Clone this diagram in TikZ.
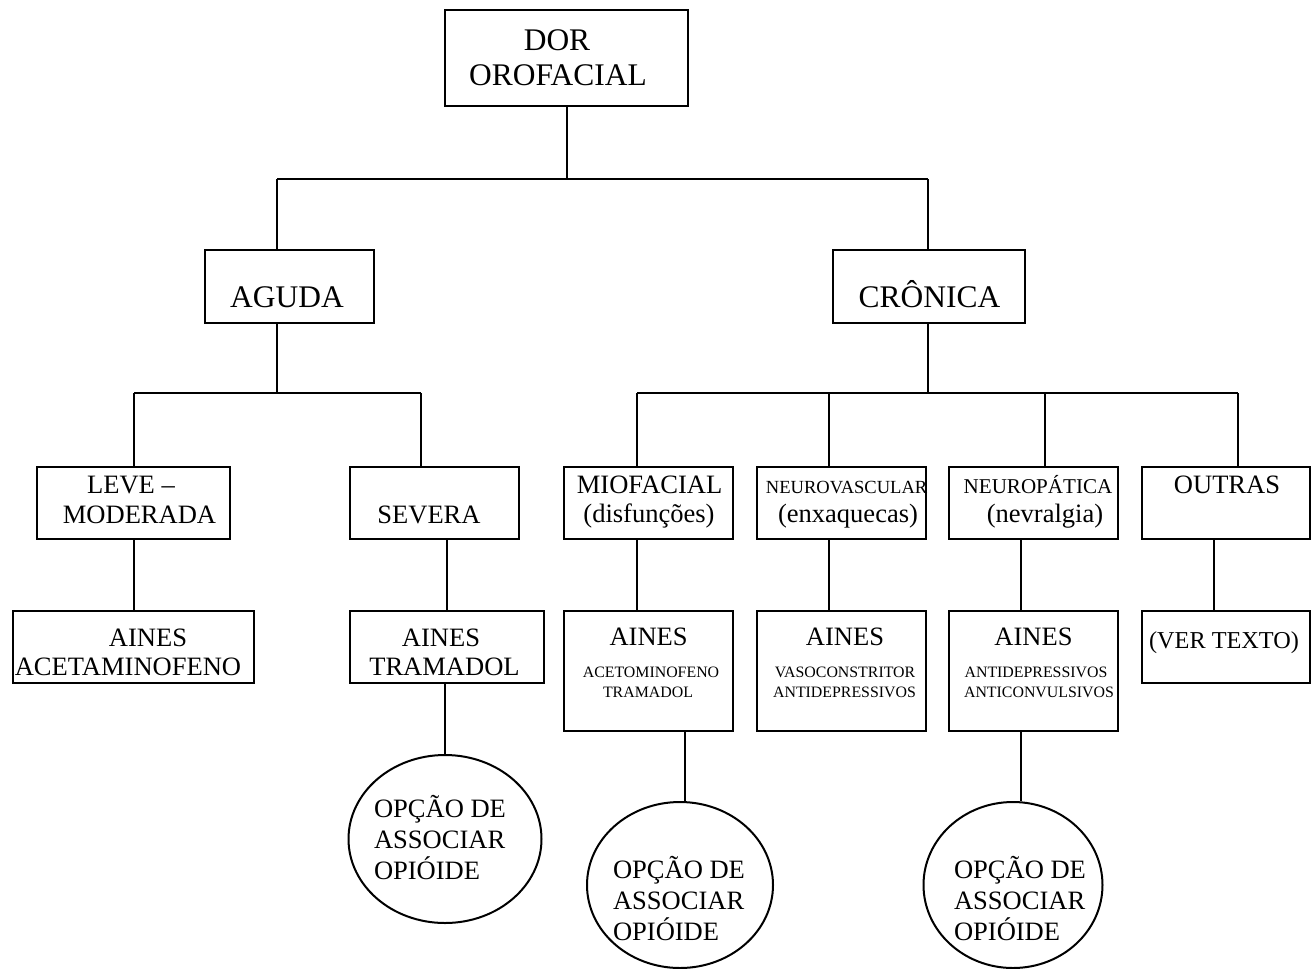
\documentclass[tikz,border=0pt]{standalone}
\usepackage{fontspec}
\setmainfont{Liberation Serif}
\usetikzlibrary{fit,shapes.geometric}
\begin{document}
\begin{tikzpicture}[x=0.75pt,y=-0.75pt,
  line width=1.5pt,
  box/.style={draw,rectangle,inner sep=0pt},
  oval/.style={draw,ellipse,inner sep=0pt},
  tb/.style={anchor=base,inner sep=0pt,font=\fontsize{23.6}{28}\selectfont},
  tm/.style={anchor=base,inner sep=0pt,font=\fontsize{19.9}{24}\selectfont},
  tvt/.style={anchor=base,inner sep=0pt,font=\fontsize{18.2}{22}\selectfont},
  tnv/.style={anchor=base,inner sep=0pt,font=\fontsize{13.9}{17}\selectfont},
  tnp/.style={anchor=base,inner sep=0pt,font=\fontsize{15.8}{19}\selectfont},
  ts/.style={anchor=base,inner sep=0pt,font=\fontsize{11.9}{14}\selectfont},
  te/.style={anchor=base west,inner sep=0pt,font=\fontsize{19.9}{24}\selectfont}]
\useasboundingbox[fill=white] (0,0) rectangle (1314,968);

% boxes
\node[box,fit={(445,10)(688,106)}] (dor) {};
\node[box,fit={(205,250)(374,323)}] (aguda) {};
\node[box,fit={(833,250)(1025,323)}] (cronica) {};
\node[box,fit={(37,467)(230,539)}] (leve) {};
\node[box,fit={(350,467)(519,539)}] (severa) {};
\node[box,fit={(564,467)(733,539)}] (mio) {};
\node[box,fit={(757,467)(926,539)}] (nvasc) {};
\node[box,fit={(949,467)(1118,539)}] (npat) {};
\node[box,fit={(1142,467)(1310,539)}] (outras) {};
\node[box,fit={(13,611)(254,683)}] (t1) {};
\node[box,fit={(350,611)(544,683)}] (t2) {};
\node[box,fit={(564,611)(733,731)}] (t3) {};
\node[box,fit={(757,611)(926,731)}] (t4) {};
\node[box,fit={(949,611)(1118,731)}] (t5) {};
\node[box,fit={(1142,611)(1310,683)}] (t6) {};

% ellipses
\node[oval,minimum width=144.75pt,minimum height=126pt] (e1) at (445,839) {};
\node[oval,minimum width=139.5pt,minimum height=124.5pt] (e2) at (680,885) {};
\node[oval,minimum width=134.25pt,minimum height=124.5pt] (e3) at (1013,885) {};

% texts
\node[tb] (l1a) at (557,50) {DOR};
\node[tb] (l1b) at (558,85) {OROFACIAL};
\node[tb] (l2a) at (287,307) {AGUDA};
\node[tb] (l2b) at (929.5,307) {CRÔNICA};
\node[tm] (l3a) at (131,493) {LEVE –};
\node[tm] (l3b) at (139.5,523) {MODERADA};
\node[tm] (l3c) at (429,523) {SEVERA};
\node[tm] (l3d) at (649.6,493) {MIOFACIAL};
\node[tm] (l3e) at (649,522) {(disfunções)};
\node[tnv] (l3f) at (846.6,493) {NEUROVASCULAR};
\node[tm] (l3g) at (848,522) {(enxaquecas)};
\node[tnp] (l3h) at (1038,493) {NEUROPÁTICA};
\node[tm] (l3i) at (1045,522) {(nevralgia)};
\node[tm] (l3j) at (1227,493) {OUTRAS};
\node[tm] (l4a) at (148,646) {AINES};
\node[tm] (l4b) at (128,675) {ACETAMINOFENO};
\node[tm] (l4c) at (441,646) {AINES};
\node[tm] (l4d) at (444.5,675) {TRAMADOL};
\node[tm] (l4e) at (648.6,645) {AINES};
\node[ts] (l4f) at (651,677) {ACETOMINOFENO};
\node[ts] (l4g) at (648,697) {TRAMADOL};
\node[tm] (l4h) at (845,645) {AINES};
\node[ts] (l4i) at (845,677) {VASOCONSTRITOR};
\node[ts] (l4j) at (844.5,697) {ANTIDEPRESSIVOS};
\node[tm] (l4k) at (1033.5,645) {AINES};
\node[ts] (l4l) at (1036,677) {ANTIDEPRESSIVOS};
\node[ts] (l4m) at (1039,697) {ANTICONVULSIVOS};
\node[tvt] (l4n) at (1224,648) {(VER TEXTO)};

\node[te] (o1a) at (373,817) {OPÇÃO DE};
\node[te] (o1b) at (373,848) {ASSOCIAR};
\node[te] (o1c) at (373,879) {OPIÓIDE};
\node[te] (o2a) at (612,878) {OPÇÃO DE};
\node[te] (o2b) at (612,909) {ASSOCIAR};
\node[te] (o2c) at (612,940) {OPIÓIDE};
\node[te] (o3a) at (953,878) {OPÇÃO DE};
\node[te] (o3b) at (953,909) {ASSOCIAR};
\node[te] (o3c) at (953,940) {OPIÓIDE};

% connectors
\coordinate (j0) at (567,179);
\coordinate (j0l) at (277,179);
\coordinate (j0r) at (928,179);
\draw (dor.south -| j0) -- (j0);
\draw (j0l) -- (j0r);
\draw (j0l) -- (j0l |- aguda.north);
\draw (j0r) -- (j0r |- cronica.north);

\coordinate (j1) at (277,393);
\coordinate (j1l) at (134,393);
\coordinate (j1r) at (421,393);
\draw (aguda.south -| j1) -- (j1);
\draw (j1l) -- (j1r);
\draw (j1l) -- (j1l |- leve.north);
\draw (j1r) -- (j1r |- severa.north);

\coordinate (j2) at (928,393);
\coordinate (j2a) at (637,393);
\coordinate (j2b) at (829,393);
\coordinate (j2c) at (1045,393);
\coordinate (j2d) at (1238,393);
\draw (cronica.south -| j2) -- (j2);
\draw (j2a) -- (j2d);
\draw (j2a) -- (j2a |- mio.north);
\draw (j2b) -- (j2b |- nvasc.north);
\draw (j2c) -- (j2c |- npat.north);
\draw (j2d) -- (j2d |- outras.north);

\coordinate (k1) at (134,0);
\coordinate (k2) at (447,0);
\coordinate (k3) at (637,0);
\coordinate (k4) at (829,0);
\coordinate (k5) at (1021,0);
\coordinate (k6) at (1214,0);
\coordinate (k7) at (685,0);
\draw (leve.south -| k1) -- (t1.north -| k1);
\draw (severa.south -| k2) -- (t2.north -| k2);
\draw (mio.south -| k3) -- (t3.north -| k3);
\draw (nvasc.south -| k4) -- (t4.north -| k4);
\draw (npat.south -| k5) -- (t5.north -| k5);
\draw (outras.south -| k6) -- (t6.north -| k6);
\draw (t2.south -| e1.north) -- (e1.north);
\draw (t3.south -| k7) -- (e2.north -| k7);
\draw (t5.south -| k5) -- (e3.north -| k5);
\end{tikzpicture}
\end{document}
